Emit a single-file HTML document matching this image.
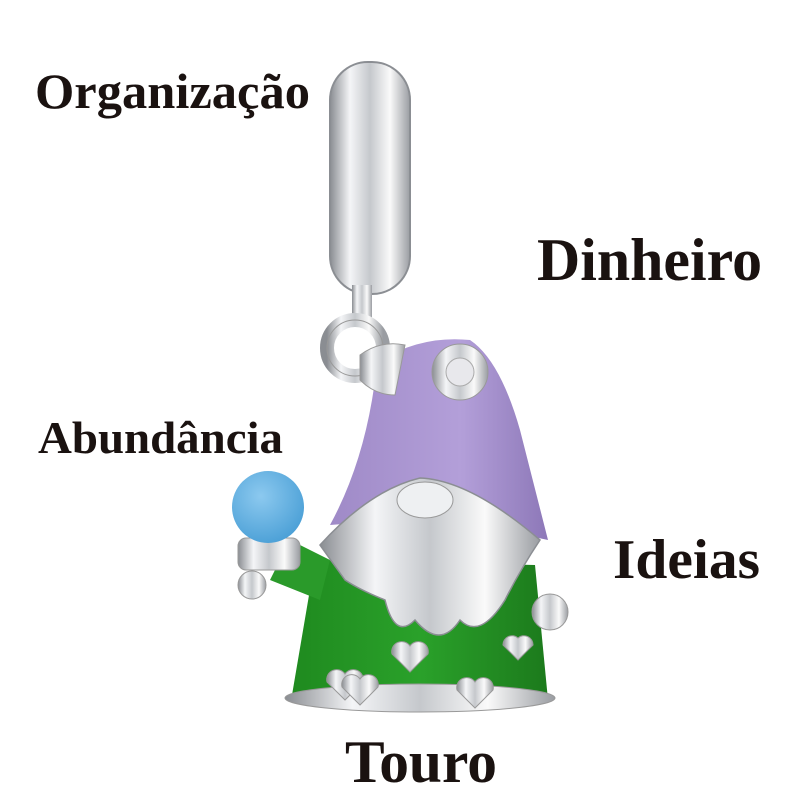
<!DOCTYPE html>
<html><head><meta charset="utf-8"><style>
html,body{margin:0;padding:0;background:#fff;}
svg{display:block;}
text{font-family:"Liberation Serif",serif;fill:#1a1210;font-weight:bold;}
</style></head><body>
<svg width="800" height="800" viewBox="0 0 800 800" xmlns="http://www.w3.org/2000/svg">
<defs>
<linearGradient id="sil" x1="0" x2="1" y1="0" y2="0">
<stop offset="0" stop-color="#8a8d92"/><stop offset="0.25" stop-color="#f4f5f7"/><stop offset="0.5" stop-color="#c5c8cc"/><stop offset="0.75" stop-color="#fafafa"/><stop offset="1" stop-color="#9a9da2"/>
</linearGradient>
<radialGradient id="blue" cx="0.4" cy="0.35" r="0.7"><stop offset="0" stop-color="#8cc9ef"/><stop offset="1" stop-color="#4a9fd6"/></radialGradient>
<linearGradient id="hat" x1="0" x2="1"><stop offset="0" stop-color="#9f8ac7"/><stop offset="0.6" stop-color="#b39fd9"/><stop offset="1" stop-color="#8d78b8"/></linearGradient>
<linearGradient id="grn" x1="0" x2="1"><stop offset="0" stop-color="#1f8a1f"/><stop offset="0.5" stop-color="#2aa12a"/><stop offset="1" stop-color="#1c7a1c"/></linearGradient>
</defs>
<rect x="330" y="62" width="80" height="232" rx="38" fill="url(#sil)" stroke="#8b8e93" stroke-width="2"/>
<rect x="352" y="285" width="20" height="40" fill="url(#sil)"/>
<circle cx="355" cy="348" r="28" fill="none" stroke="url(#sil)" stroke-width="14"/>
<circle cx="355" cy="348" r="28" fill="none" stroke="#999" stroke-width="1"/>
<path d="M315 560 L535 565 L548 700 L292 695 Z" fill="url(#grn)"/>
<ellipse cx="420" cy="698" rx="135" ry="14" fill="url(#sil)" stroke="#999"/>
<path d="M290 540 L330 560 L320 600 L270 580 Z" fill="#2a9a2a"/>
<rect x="238" y="538" width="62" height="32" rx="8" fill="url(#sil)" stroke="#999"/>
<circle cx="252" cy="585" r="14" fill="url(#sil)" stroke="#999"/>
<circle cx="268" cy="507" r="36" fill="url(#blue)"/>
<circle cx="550" cy="612" r="18" fill="url(#sil)" stroke="#999"/>
<path d="M378 362 Q420 335 470 340 Q500 360 520 430 L548 540 Q440 515 330 525 Q360 470 372 400 Z" fill="url(#hat)"/>
<path d="M360 355 Q380 340 405 345 L395 395 Q375 395 360 380 Z" fill="url(#sil)" stroke="#999"/>
<circle cx="460" cy="372" r="28" fill="url(#sil)" stroke="#999"/>
<circle cx="460" cy="372" r="14" fill="#e8e8ec" stroke="#aaa"/>
<path d="M320 545 Q370 490 420 478 Q470 480 540 540 Q520 570 505 600 Q480 640 460 620 Q440 650 415 620 Q395 640 385 600 Q360 590 345 580 Z" fill="url(#sil)" stroke="#8b8e93" stroke-width="1.5"/>
<ellipse cx="425" cy="500" rx="28" ry="18" fill="#eef0f2" stroke="#999"/>
<g fill="url(#sil)" stroke="#999">
<path d="M410 672 l-18 -18 a10 10 0 0 1 18 -8 a10 10 0 0 1 18 8 z"/>
<path d="M475 708 l-18 -18 a10 10 0 0 1 18 -8 a10 10 0 0 1 18 8 z"/>
<path d="M345 700 l-18 -18 a10 10 0 0 1 18 -8 a10 10 0 0 1 18 8 z"/>
<path d="M360 705 l-18 -18 a10 10 0 0 1 18 -8 a10 10 0 0 1 18 8 z"/>
<path d="M518 660 l-15 -15 a9 9 0 0 1 15 -7 a9 9 0 0 1 15 7 z"/>
</g>
<text x="35" y="108" font-size="50" textLength="275" lengthAdjust="spacingAndGlyphs">Organização</text>
<text x="537" y="280" font-size="60" textLength="225" lengthAdjust="spacingAndGlyphs">Dinheiro</text>
<text x="38" y="453" font-size="46" textLength="245" lengthAdjust="spacingAndGlyphs">Abundância</text>
<text x="613" y="578" font-size="56" textLength="147" lengthAdjust="spacingAndGlyphs">Ideias</text>
<text x="345" y="782" font-size="60" textLength="152" lengthAdjust="spacingAndGlyphs">Touro</text>
</svg>
</body></html>
